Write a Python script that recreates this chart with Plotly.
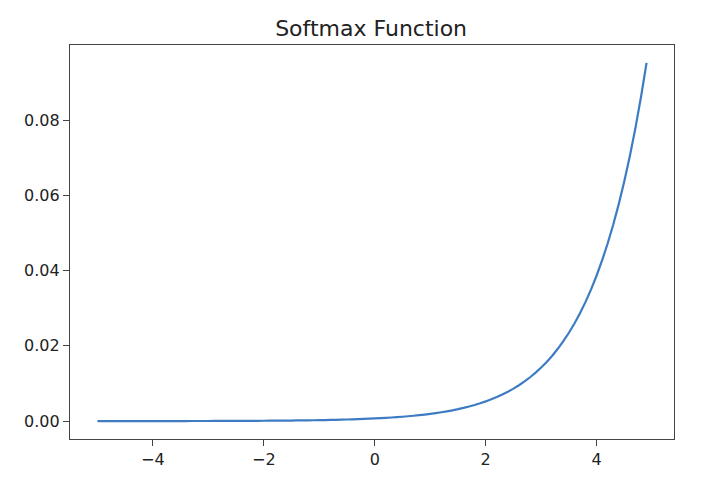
import plotly.graph_objects as go

x_values = [-5.0, -4.9, -4.8, -4.7, -4.6, -4.5, -4.4, -4.3, -4.2, -4.1,
            -4.0, -3.9, -3.8, -3.7, -3.6, -3.5, -3.4, -3.3, -3.2, -3.1,
            -3.0, -2.9, -2.8, -2.7, -2.6, -2.5, -2.4, -2.3, -2.2, -2.1,
            -2.0, -1.9, -1.8, -1.7, -1.6, -1.5, -1.4, -1.3, -1.2, -1.1,
            -1.0, -0.9, -0.8, -0.7, -0.6, -0.5, -0.4, -0.3, -0.2, -0.1,
            0.0, 0.1, 0.2, 0.3, 0.4, 0.5, 0.6, 0.7, 0.8, 0.9,
            1.0, 1.1, 1.2, 1.3, 1.4, 1.5, 1.6, 1.7, 1.8, 1.9,
            2.0, 2.1, 2.2, 2.3, 2.4, 2.5, 2.6, 2.7, 2.8, 2.9,
            3.0, 3.1, 3.2, 3.3, 3.4, 3.5, 3.6, 3.7, 3.8, 3.9,
            4.0, 4.1, 4.2, 4.3, 4.4, 4.5, 4.6, 4.7, 4.8, 4.9]

softmax_values = [
    0.000005, 0.000005, 0.000006, 0.000006, 0.000007, 0.000008, 0.000009, 0.000010, 0.000011, 0.000012,
    0.000013, 0.000014, 0.000016, 0.000018, 0.000019, 0.000021, 0.000024, 0.000026, 0.000029, 0.000032,
    0.000035, 0.000039, 0.000043, 0.000048, 0.000053, 0.000058, 0.000064, 0.000071, 0.000079, 0.000087,
    0.000096, 0.000106, 0.000117, 0.000129, 0.000143, 0.000158, 0.000175, 0.000193, 0.000213, 0.000236,
    0.000261, 0.000288, 0.000318, 0.000352, 0.000389, 0.000430, 0.000475, 0.000525, 0.000580, 0.000641,
    0.000709, 0.000783, 0.000866, 0.000957, 0.001057, 0.001168, 0.001291, 0.001427, 0.001577, 0.001743,
    0.001926, 0.002129, 0.002353, 0.002600, 0.002874, 0.003176, 0.003510, 0.003879, 0.004287, 0.004738,
    0.005236, 0.005787, 0.006396, 0.007068, 0.007812, 0.008633, 0.009541, 0.010545, 0.011654, 0.012880,
    0.014234, 0.015731, 0.017385, 0.019214, 0.021234, 0.023468, 0.025936, 0.028664, 0.031678, 0.035010,
    0.038692, 0.042761, 0.047259, 0.052229, 0.057722, 0.063793, 0.070502, 0.077917, 0.086111, 0.095167,
]

x_ticks = [-4, -2, 0, 2, 4]
x_tick_labels = ["\u22124", "\u22122", "0", "2", "4"]
y_ticks = [0.00, 0.02, 0.04, 0.06, 0.08]
y_tick_labels = ["0.00", "0.02", "0.04", "0.06", "0.08"]
title_text = "Softmax Function"

fig = go.Figure()
fig.add_trace(go.Scatter(
    x=x_values, y=softmax_values, mode="lines",
    line=dict(color="#3d7bc2", width=2.2, simplify=False),
    hoverinfo="skip", showlegend=False,
))

axis_common = dict(
    showgrid=False, zeroline=False, showline=True, mirror=True,
    linecolor="#444444", linewidth=1.3,
    ticks="outside", ticklen=6, tickwidth=1.3, tickcolor="#444444",
    tickfont=dict(family="DejaVu Sans", size=16, color="#222222"),
)

fig.update_layout(
    width=701, height=481,
    paper_bgcolor="white", plot_bgcolor="white",
    margin=dict(l=62, r=35, t=37, b=50),
    title=dict(text=title_text, x=0.518, xanchor="center", y=0.958, yanchor="middle",
               font=dict(family="DejaVu Sans", size=22, color="#222222")),
    xaxis=dict(range=[-5.495, 5.395], tickvals=x_ticks, ticktext=x_tick_labels, **axis_common),
    yaxis=dict(range=[-0.00475, 0.09993], tickvals=y_ticks, ticktext=y_tick_labels, **axis_common),
)

fig.write_html("out.html")
